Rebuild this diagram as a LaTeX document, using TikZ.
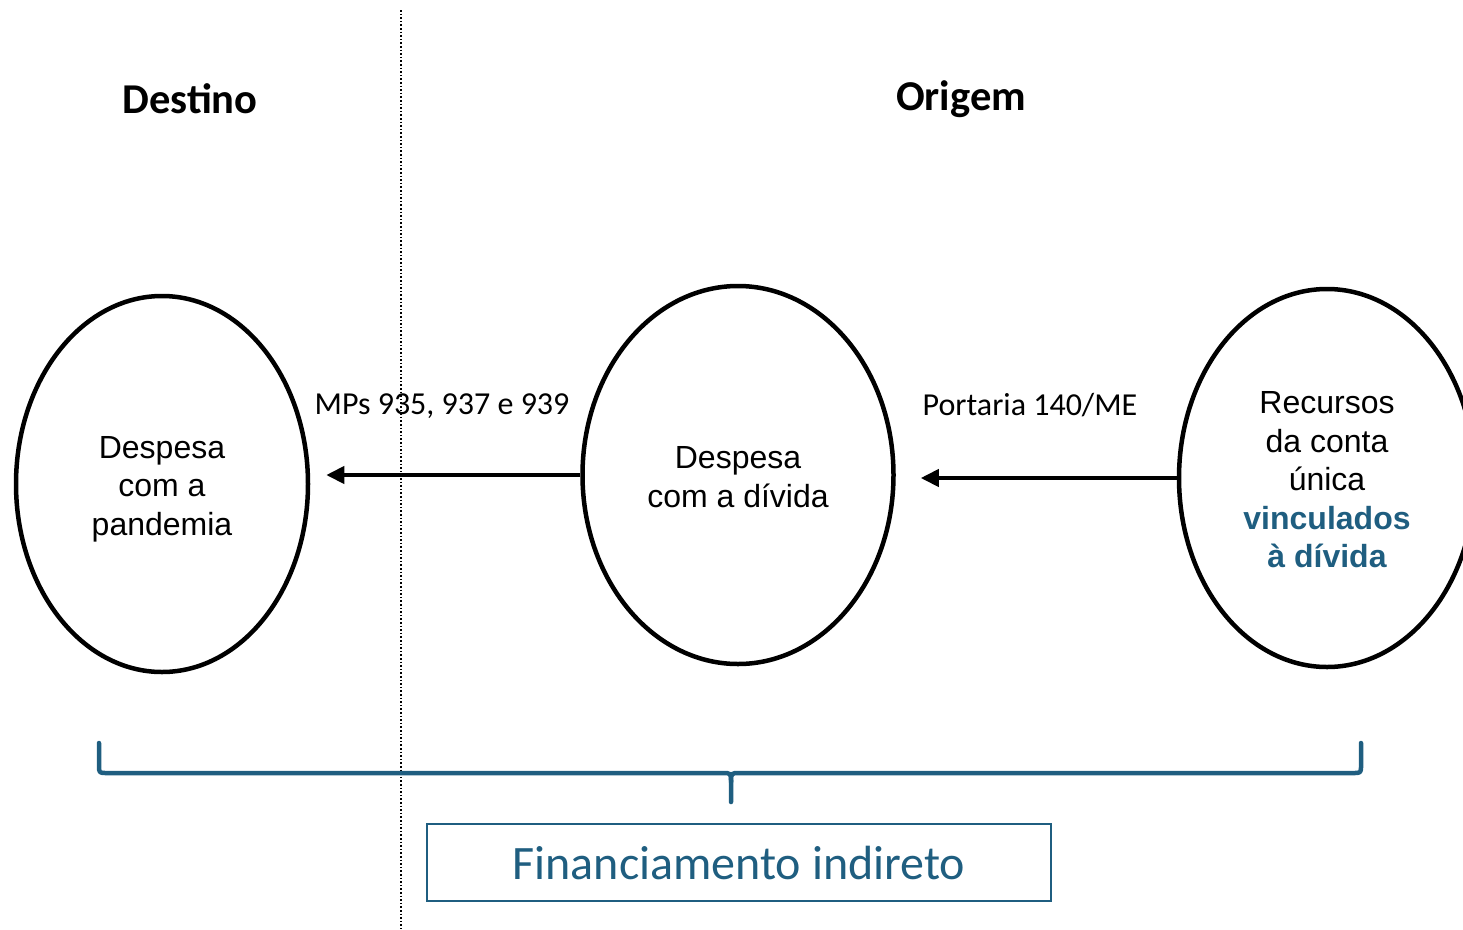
\documentclass[tikz,border=0pt]{standalone}
\usepackage{fontspec}
\setmainfont{Liberation Sans}
\newfontfamily\carfont{Carlito}
\usetikzlibrary{shapes.geometric,arrows.meta}
\definecolor{navy}{HTML}{1F5E80}
\tikzset{
  oval/.style={ellipse, draw=black, line width=4.5pt, inner sep=0pt},
  ovaltext/.style={align=center, inner sep=0pt, font=\fontsize{32}{38.5}\selectfont},
  arr/.style={line width=4pt, -{Triangle[length=18pt,width=17pt]}},
  lbl/.style={font=\carfont\fontsize{32}{36}\selectfont, inner sep=0pt},
  ttl/.style={font=\carfont\bfseries\fontsize{42.5}{48}\selectfont, inner sep=0pt},
  brace/.style={draw=navy, line width=4.5pt, line cap=round, line join=round},
}
\begin{document}
\begin{tikzpicture}[x=1pt,y=-1pt]
\useasboundingbox (0,0) rectangle (1463,929);
\clip (0,0) rectangle (1463,929);
\draw[line width=1.6pt, dotted] (401,10) -- (401,929);
\node[ttl] (t1) at (190,99) {Destino};
\node[ttl] (t2) at (961,99) {Origem};
\node[oval, minimum width=292pt, minimum height=376pt] (left) at (162,484) {};
\node[oval, minimum width=311pt, minimum height=378pt] (mid) at (738,475) {};
\node[oval, minimum width=296pt, minimum height=378pt] (right) at (1327,478) {};
\node[ovaltext] (leftT) at ([yshift=-5pt]left.center) {Despesa\\com a\\pandemia};
\node[ovaltext] (midT) at ([yshift=-2pt]mid.center) {Despesa\\com a dívida};
\node[ovaltext] (rightT) at ([yshift=-2pt]right.center) {Recursos\\da conta\\única\\{\bfseries\color{navy}vinculados}\\{\bfseries\color{navy}à dívida}};
\draw[arr, shorten >=16pt] (mid.west) -- (mid.west -| left.east);
\draw[arr, shorten >=25pt] (right.west) -- (right.west -| mid.east);
\node[lbl] (l1) at (442,406) {MPs 935, 937 e 939};
\node[lbl] (l2) at (1030,405) {Portaria 140/ME};
\draw[brace] (99,743) -- (99,765) .. controls (99,773) .. (107,773) -- (722,773) .. controls (731,773) .. (731,782) -- (731,802);
\draw[brace] (1361,743) -- (1361,765) .. controls (1361,773) .. (1353,773) -- (740,773) .. controls (731,773) .. (731,782);
\node[draw=navy, line width=2.5pt, minimum width=624pt, minimum height=77pt, inner sep=0pt,
  text=navy, font=\carfont\fontsize{48}{54}\selectfont] (fin) at (739,862.5) {Financiamento indireto};
\end{tikzpicture}
\end{document}
